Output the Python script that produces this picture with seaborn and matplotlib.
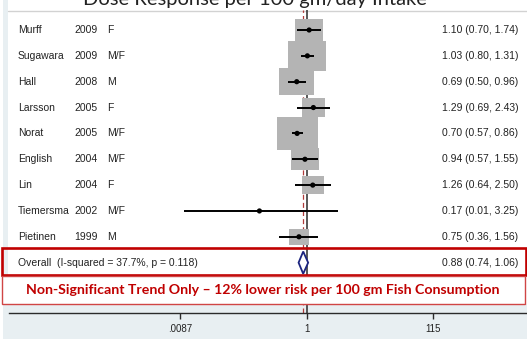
import matplotlib
matplotlib.use("Agg")
import matplotlib.pyplot as plt
import matplotlib.transforms as mtransforms
from matplotlib.patches import Rectangle, Polygon
import numpy as np
import pandas as pd
import seaborn as sns

# Study-level estimates (relative risk per 100 gm/day) with 95% CI and weights
studies = ["Murff", "Sugawara", "Hall", "Larsson", "Norat", "English", "Lin", "Tiemersma", "Pietinen"]
years = ["2009", "2009", "2008", "2005", "2005", "2004", "2004", "2002", "1999"]
sexes = ["F", "M/F", "M", "F", "M/F", "M/F", "F", "M/F", "M"]
rr = [1.10, 1.03, 0.69, 1.29, 0.70, 0.94, 1.26, 0.17, 0.75]
ci_low = [0.70, 0.80, 0.50, 0.69, 0.57, 0.57, 0.64, 0.01, 0.36]
ci_high = [1.74, 1.31, 0.96, 2.43, 0.86, 1.55, 2.50, 3.25, 1.56]
weights = [10.7, 19.7, 16.3, 7.5, 22.7, 10.6, 6.5, 0.2, 5.9]

overall_rr = 0.88
overall_low = 0.74
overall_high = 1.06
overall_label = "Overall  (I-squared = 37.7%, p = 0.118)"

tick_values = [0.0087, 1, 115]
tick_labels = [".0087", "1", "115"]

title = "Dose Response per 100 gm/day Intake"
note = "Non-Significant Trend Only \u2013 12% lower risk per 100 gm Fish Consumption"

df = pd.DataFrame({"study": studies, "year": years, "sex": sexes, "rr": rr,
                   "lo": ci_low, "hi": ci_high, "w": weights})
df["row"] = np.arange(len(df))
overall_row = len(df)

sns.set_theme(style="white")
plt.rcParams["font.family"] = ["Liberation Sans", "DejaVu Sans"]

W, H = 527, 339
fig = plt.figure(figsize=(W / 100, H / 100), dpi=100)
fig.patch.set_facecolor("white")


def fx(px):
    return px / W


def fy(py):
    return 1 - py / H


# Graph region background and white plot region
fig.add_artist(Rectangle((fx(3), 0), 1 - fx(3), 1, transform=fig.transFigure,
                         facecolor="#e8eff2", edgecolor="none", zorder=-10))
fig.add_artist(Rectangle((fx(8), fy(304)), 1 - fx(8), 1 - fy(304), transform=fig.transFigure,
                         facecolor="white", edgecolor="none", zorder=-9))
fig.add_artist(plt.Line2D([fx(8), 1], [fy(10.5), fy(10.5)], transform=fig.transFigure,
                          color="#d2d2d2", lw=1.0, zorder=-8))

ax = fig.add_axes([fx(9), fy(313), fx(527) - fx(9), fy(10) - fy(313)])
ax.set_facecolor("none")
ax.set_xscale("log")

px_per_dec = 61.3
x_one = 306.6
ax.set_xlim(10 ** ((9 - x_one) / px_per_dec), 10 ** ((527 - x_one) / px_per_dec))
row_h = 25.85
ax.set_ylim((313 - 30) / row_h, -(30 - 10) / row_h)

# Reference lines: null effect and pooled estimate
ax.axvline(1, color="#2b2b2b", lw=1.1, zorder=1)
ax.axvline(overall_rr, color="#b03a3a", lw=0.9, ls=(0, (4, 2.5)), zorder=1)

# Weight boxes (area proportional to study weight)
for _, r in df.iterrows():
    s = np.sqrt(r["w"])
    hw = 0.0701 * s
    hh = 0.1315 * s
    lo = r["rr"] * 10 ** (-hw)
    hi = r["rr"] * 10 ** (hw)
    ax.add_patch(Rectangle((lo, r["row"] - hh), hi - lo, 2 * hh,
                           facecolor="#b4b4b4", edgecolor="none", zorder=2))

# Confidence intervals and point estimates
ax.hlines(df["row"], df["lo"], df["hi"], color="black", lw=1.4, zorder=3)
sns.scatterplot(data=df, x="rr", y="row", ax=ax, color="black", s=14,
                marker="o", edgecolor="none", zorder=4, legend=False)

# Pooled estimate diamond
dh = 0.43
ax.add_patch(Polygon([(overall_low, overall_row), (overall_rr, overall_row - dh),
                      (overall_high, overall_row), (overall_rr, overall_row + dh)],
                     closed=True, facecolor="white", edgecolor="#1c2580", lw=1.3, zorder=5))

for side in ["top", "left", "right"]:
    ax.spines[side].set_visible(False)
ax.spines["bottom"].set_color("#2b2b2b")
ax.spines["bottom"].set_linewidth(1.0)
ax.set_xticks(tick_values)
ax.set_xticklabels(tick_labels)
ax.xaxis.set_minor_locator(matplotlib.ticker.NullLocator())
ax.tick_params(axis="x", direction="out", length=4.5, width=1.0, color="#2b2b2b",
               labelsize=7, labelcolor="#222222", pad=3.5, bottom=True)
ax.set_yticks([])
ax.set_xlabel("")
ax.set_ylabel("")

# Study labels and numeric columns
trans = mtransforms.blended_transform_factory(fig.transFigure, ax.transData)
txt_kw = dict(fontsize=7.5, color="#222222", va="center", transform=trans)
for _, r in df.iterrows():
    ax.text(fx(18), r["row"], r["study"], ha="left", **txt_kw)
    ax.text(fx(74), r["row"], r["year"], ha="left", **txt_kw)
    ax.text(fx(107), r["row"], r["sex"], ha="left", **txt_kw)
    ax.text(fx(518.5), r["row"], f"{r['rr']:.2f} ({r['lo']:.2f}, {r['hi']:.2f})",
            ha="right", **txt_kw)
ax.text(fx(18), overall_row, overall_label, ha="left", **txt_kw)
ax.text(fx(518.5), overall_row, f"{overall_rr:.2f} ({overall_low:.2f}, {overall_high:.2f})",
        ha="right", **txt_kw)

# Highlight boxes around the pooled row and the note
fig.add_artist(Rectangle((fx(2), fy(275)), fx(526) - fx(2), fy(247.5) - fy(275),
                         transform=fig.transFigure, facecolor="none",
                         edgecolor="#c00000", lw=1.9, zorder=6))
fig.add_artist(Rectangle((fx(2), fy(304)), fx(525) - fx(2), fy(276) - fy(304),
                         transform=fig.transFigure, facecolor="white",
                         edgecolor="#d04545", lw=1.0, zorder=6))
fig.text(fx(263), fy(290), note, ha="center", va="center", fontsize=10.2,
         fontweight="bold", color="#c00000", family=["Lato", "DejaVu Sans"], zorder=7)

# Title, running off the top edge
fig.text(fx(255), fy(5.5), title, ha="center", va="baseline", fontsize=14.5,
         color="#222222", family=["Lato", "DejaVu Sans"])

fig.savefig("out.png", dpi=100)
